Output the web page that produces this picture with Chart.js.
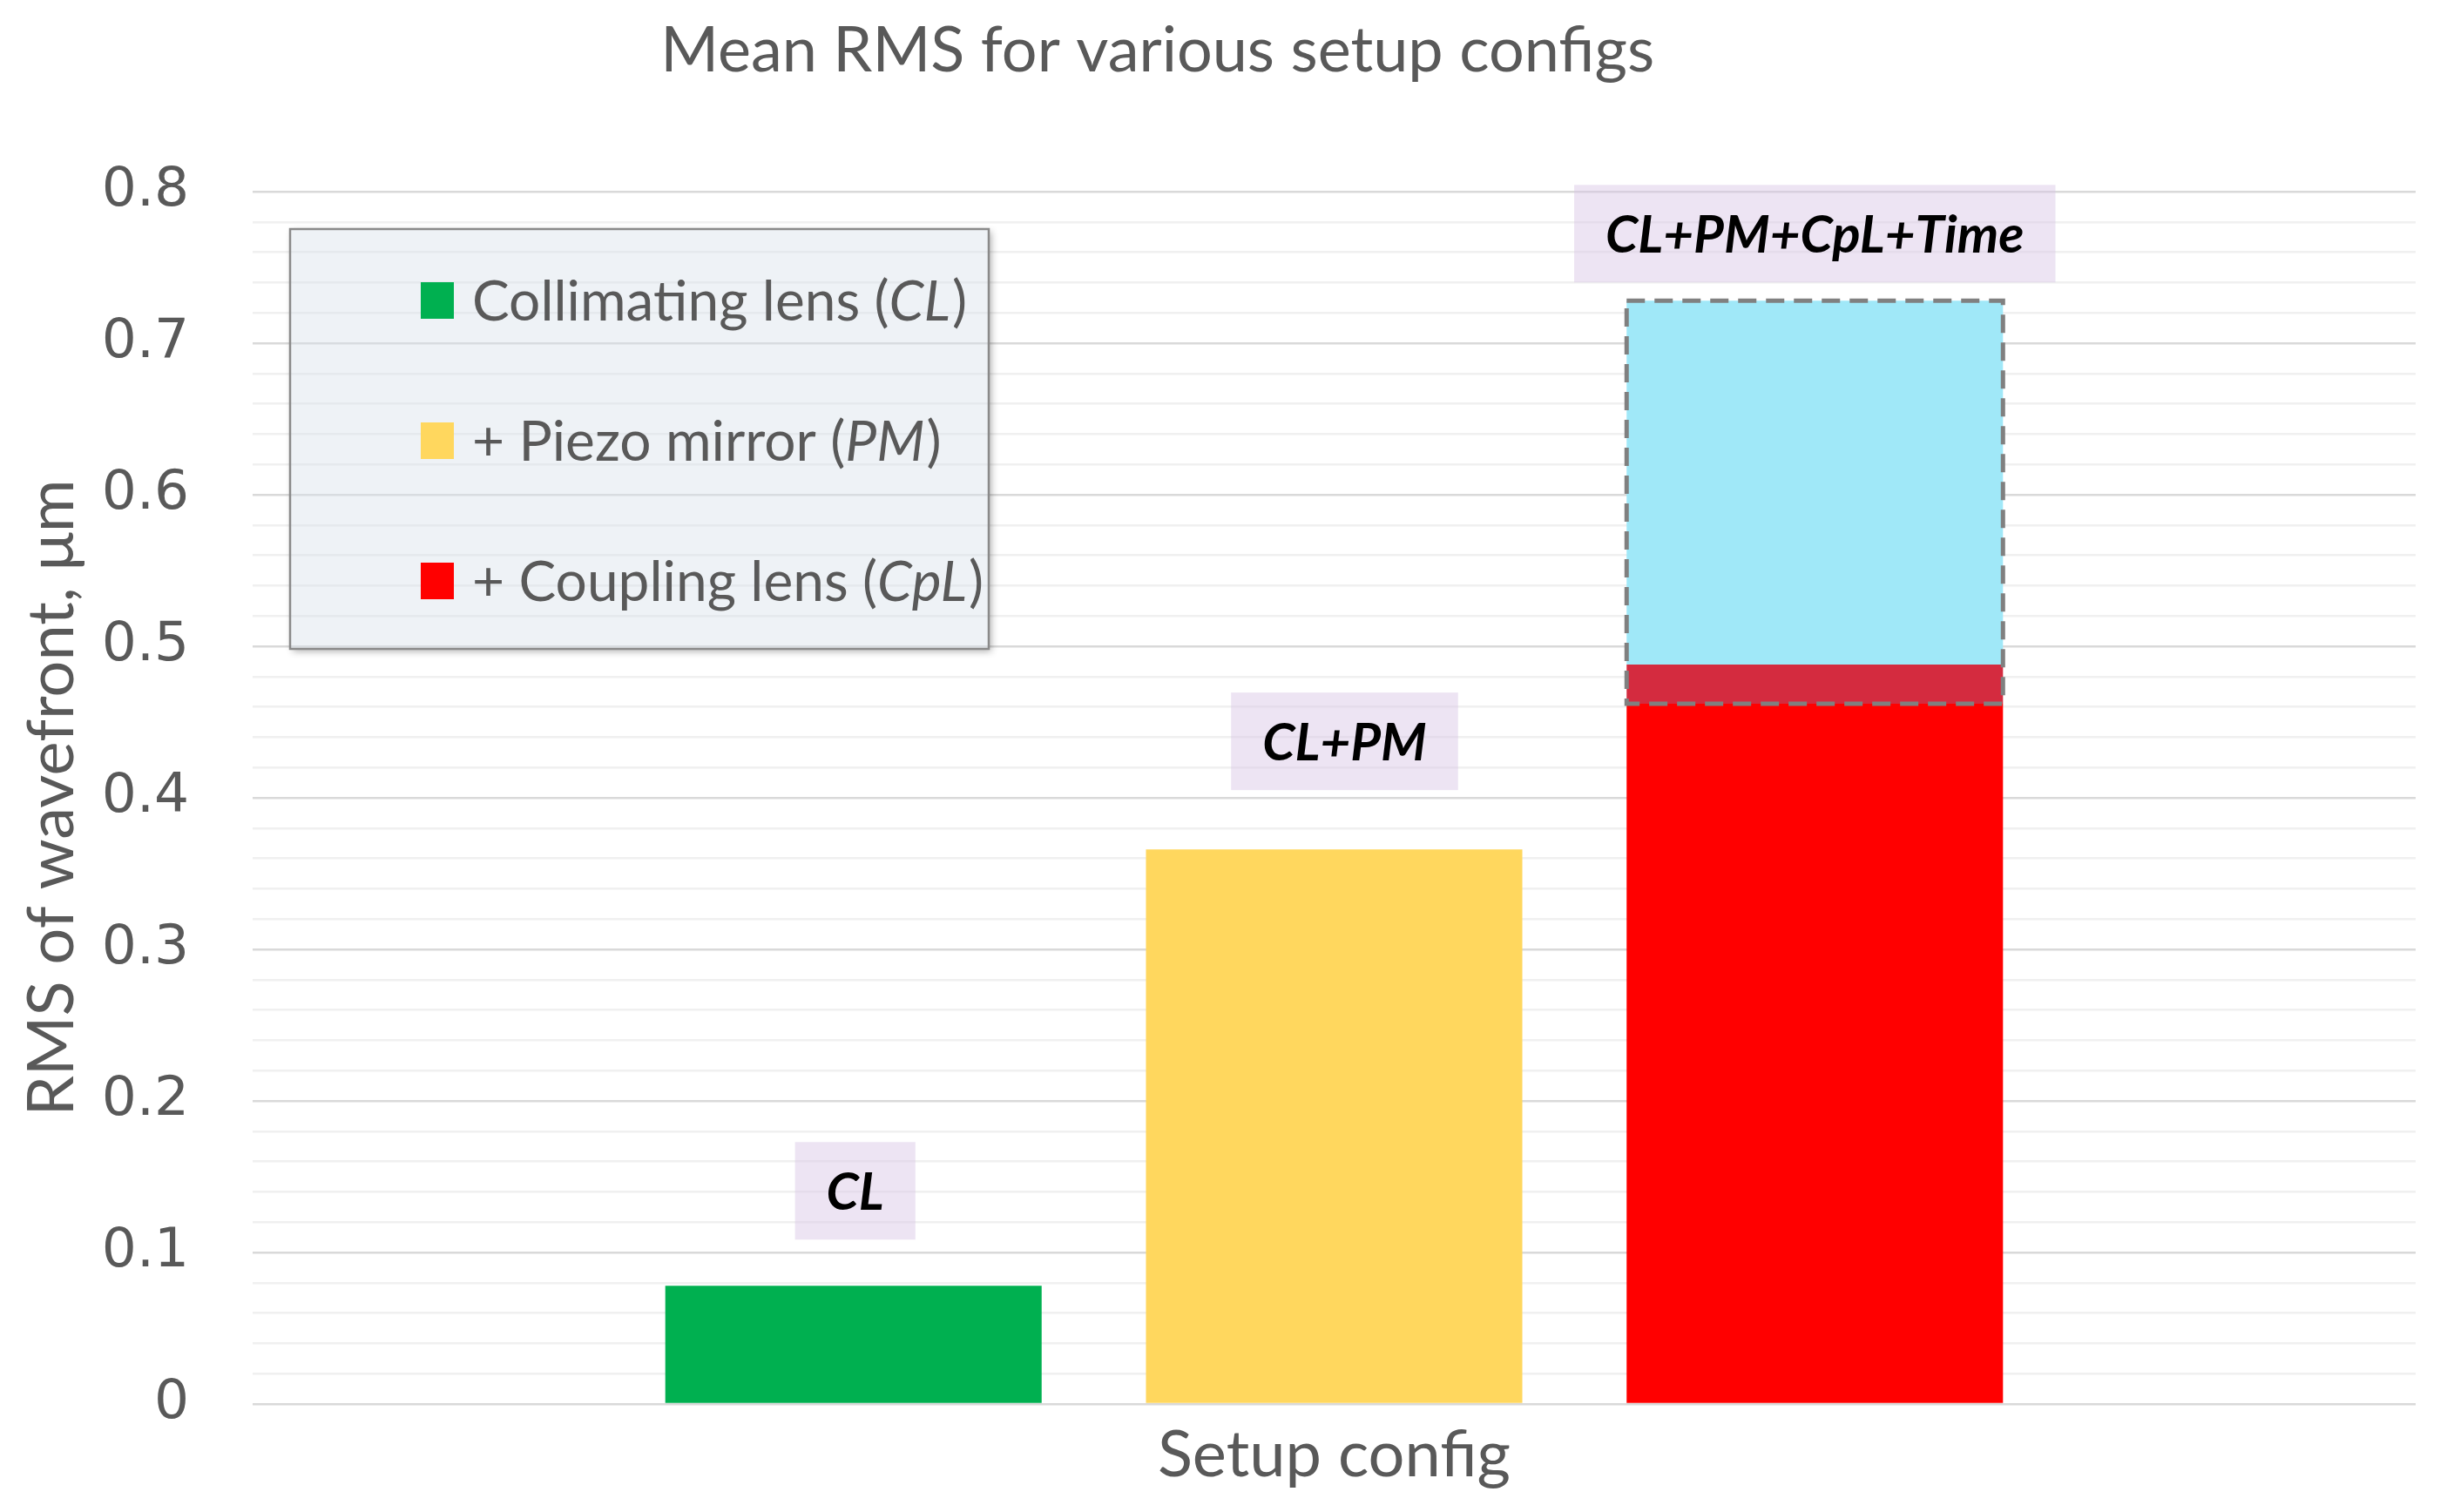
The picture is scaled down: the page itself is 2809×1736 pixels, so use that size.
<!DOCTYPE html>
<html lang="en">
<head>
    <meta charset="UTF-8">
    <title>Mean RMS for various setup configs</title>
    <script src="https://cdn.jsdelivr.net/npm/chart.js"></script>
    <style>
        body { margin: 0; background: #ffffff; }
    </style>
</head>
<body>
    <canvas id="rmsChart" width="2809" height="1736"></canvas>

    <script>
        // Setup configs, one bar each
        const categories = ['CL', 'CL+PM', 'CL+PM+CpL+Time'];
        const barPositions = [1, 2, 3];

        // Mean RMS of wavefront, um
        const clValues = [0.078, null, null];
        const pmValues = [null, 0.366, null];
        const cplValues = [null, null, 0.488];
        // spread added by time for the last config (low, high)
        const timeRange = [0.462, 0.728];

        // Y axis ticks
        const yMajorTicks = [0, 0.1, 0.2, 0.3, 0.4, 0.5, 0.6, 0.7, 0.8];
        const yMinorStep = 0.02;

        // Legend text
        const legendNames = ['Collimating lens ', '+ Piezo mirror ', '+ Coupling lens '];
        const legendAbbr = ['CL', 'PM', 'CpL'];

        const FONT = 'Lato';
        const GREY = '#595959';

        function pointsFrom(values) {
            const pts = [];
            values.forEach((v, i) => { if (v !== null) pts.push({ x: barPositions[i], y: v }); });
            return pts;
        }

        // split the last bar into: red part below the time range, overlap, time part above red
        const redBelow = cplValues.map(v => v === null ? null : Math.min(v, timeRange[0]));
        const overlap = cplValues.map(v => v === null ? null : v - timeRange[0]);
        const timeAbove = cplValues.map(v => v === null ? null : timeRange[1] - v);

        function isMajor(v) {
            return yMajorTicks.some(t => Math.abs(t - v) < 1e-6);
        }

        // draws title, legend box, dashed outline and the config labels
        const overlayPlugin = {
            id: 'overlay',
            afterDraw(chart, args, opts) {
                const ctx = chart.ctx;
                const area = chart.chartArea;
                ctx.save();

                // chart title
                ctx.fillStyle = GREY;
                ctx.font = '72px ' + FONT;
                ctx.textAlign = 'center';
                ctx.textBaseline = 'middle';
                ctx.fillText('Mean RMS for various setup configs', chart.width * 0.473, 59);

                // dashed outline around the time range
                const lo = chart.getDatasetMeta(3).data[0].getProps(['x', 'y', 'base', 'width'], true);
                const hi = chart.getDatasetMeta(4).data[0].getProps(['x', 'y', 'base', 'width'], true);
                ctx.strokeStyle = '#808080';
                ctx.lineWidth = 5;
                ctx.setLineDash([21, 11]);
                ctx.strokeRect(lo.x - lo.width / 2, hi.y, lo.width, lo.base - hi.y);
                ctx.setLineDash([]);

                // config labels above bars
                ctx.font = 'italic bold 60px ' + FONT;
                categories.forEach((cat, i) => {
                    let top = Infinity, cx = 0;
                    chart.data.datasets.forEach((ds, d) => {
                        const meta = chart.getDatasetMeta(d);
                        meta.data.forEach((el, j) => {
                            if (ds.data[j].x === barPositions[i]) {
                                top = Math.min(top, el.y);
                                cx = el.x;
                            }
                        });
                    });
                    const w = ctx.measureText(cat).width + 72;
                    const h = 112;
                    const bottom = top - opts.labelGaps[i];
                    const shift = opts.labelShift[i];
                    ctx.fillStyle = 'rgba(216, 196, 228, 0.45)';
                    ctx.fillRect(cx + shift - w / 2, bottom - h, w, h);
                    ctx.fillStyle = '#000000';
                    ctx.fillText(cat, cx + shift, bottom - h / 2 + 2);
                });

                // legend box, shadow kept outside the translucent fill
                const bx = area.left + 43, by = area.top + 43, bw = 802, bh = 482;
                ctx.save();
                ctx.beginPath();
                ctx.rect(0, 0, chart.width, chart.height);
                ctx.rect(bx, by, bw, bh);
                ctx.clip('evenodd');
                ctx.shadowColor = 'rgba(0, 0, 0, 0.3)';
                ctx.shadowBlur = 8;
                ctx.shadowOffsetX = 3;
                ctx.shadowOffsetY = 3;
                ctx.fillStyle = '#ffffff';
                ctx.fillRect(bx, by, bw, bh);
                ctx.restore();

                ctx.fillStyle = 'rgba(214, 224, 234, 0.42)';
                ctx.fillRect(bx, by, bw, bh);
                ctx.strokeStyle = '#8a8a8a';
                ctx.lineWidth = 2.5;
                ctx.strokeRect(bx, by, bw, bh);

                const legendColors = [
                    chart.data.datasets[0].backgroundColor,
                    chart.data.datasets[1].backgroundColor,
                    chart.data.datasets[2].backgroundColor
                ];
                ctx.textAlign = 'left';
                legendNames.forEach((name, i) => {
                    const rowY = by + 82 + i * 161;
                    ctx.fillStyle = legendColors[i];
                    ctx.fillRect(bx + 150, rowY - 21, 38, 42);
                    ctx.fillStyle = GREY;
                    let x = bx + 209;
                    ctx.font = '64px ' + FONT;
                    ctx.fillText(name + '(', x, rowY + 2);
                    x += ctx.measureText(name + '(').width;
                    ctx.font = 'italic 64px ' + FONT;
                    ctx.fillText(legendAbbr[i], x, rowY + 2);
                    x += ctx.measureText(legendAbbr[i]).width + 2;
                    ctx.font = '64px ' + FONT;
                    ctx.fillText(')', x, rowY + 2);
                });

                ctx.restore();
            }
        };

        const barCommon = {
            grouped: false,
            stack: 'main',
            barPercentage: 0.783,
            categoryPercentage: 1,
            borderWidth: 0
        };

        const ctx = document.getElementById('rmsChart').getContext('2d');
        new Chart(ctx, {
            type: 'bar',
            data: {
                datasets: [
                    Object.assign({ label: 'Collimating lens (CL)', data: pointsFrom(clValues), backgroundColor: '#00B050' }, barCommon),
                    Object.assign({ label: '+ Piezo mirror (PM)', data: pointsFrom(pmValues), backgroundColor: '#FFD75E' }, barCommon),
                    Object.assign({ label: '+ Coupling lens (CpL)', data: pointsFrom(redBelow), backgroundColor: '#FF0000' }, barCommon),
                    Object.assign({ label: 'CpL / Time overlap', data: pointsFrom(overlap), backgroundColor: '#D42B3F' }, barCommon),
                    Object.assign({ label: '+ Time', data: pointsFrom(timeAbove), backgroundColor: '#A0E8F8' }, barCommon)
                ]
            },
            options: {
                responsive: false,
                devicePixelRatio: 1,
                animation: false,
                layout: { padding: { left: 0, right: 36, top: 220, bottom: 0 } },
                plugins: {
                    legend: { display: false },
                    title: { display: false },
                    tooltip: { enabled: false },
                    overlay: { labelGaps: [53, 68, 21], labelShift: [2, 12, 0] }
                },
                scales: {
                    x: {
                        type: 'linear',
                        offset: false,
                        min: -0.25,
                        max: 4.25,
                        afterBuildTicks: (scale) => { scale.ticks = barPositions.map(v => ({ value: v })); },
                        afterFit: (scale) => { scale.height = 124; },
                        ticks: { display: false },
                        grid: { display: false, offset: false },
                        border: { display: false },
                        title: {
                            display: true,
                            text: 'Setup config',
                            color: GREY,
                            font: { family: FONT, size: 74 },
                            padding: { top: 0, bottom: 20 }
                        }
                    },
                    y: {
                        min: 0,
                        max: 0.8,
                        stacked: true,
                        afterBuildTicks: (scale) => {
                            const n = Math.round(0.8 / yMinorStep);
                            const t = [];
                            for (let i = 0; i <= n; i++) t.push({ value: i * yMinorStep });
                            scale.ticks = t;
                        },
                        afterFit: (scale) => { scale.width = 290; },
                        ticks: {
                            autoSkip: false,
                            padding: 73,
                            color: GREY,
                            font: { family: 'DejaVu Sans', size: 63 },
                            callback: (v) => isMajor(v) ? String(Math.round(v * 10) / 10) : ''
                        },
                        grid: {
                            drawTicks: false,
                            lineWidth: 2.5,
                            color: (c) => (c.tick && isMajor(c.tick.value)) ? '#D9D9D9' : '#F0F0F0'
                        },
                        border: { display: false },
                        title: {
                            display: true,
                            text: 'RMS of wavefront, \u03BCm',
                            color: GREY,
                            font: { family: FONT, size: 74 },
                            padding: { top: 16, bottom: 0 }
                        }
                    }
                }
            },
            plugins: [overlayPlugin]
        });
    </script>
</body>
</html>
